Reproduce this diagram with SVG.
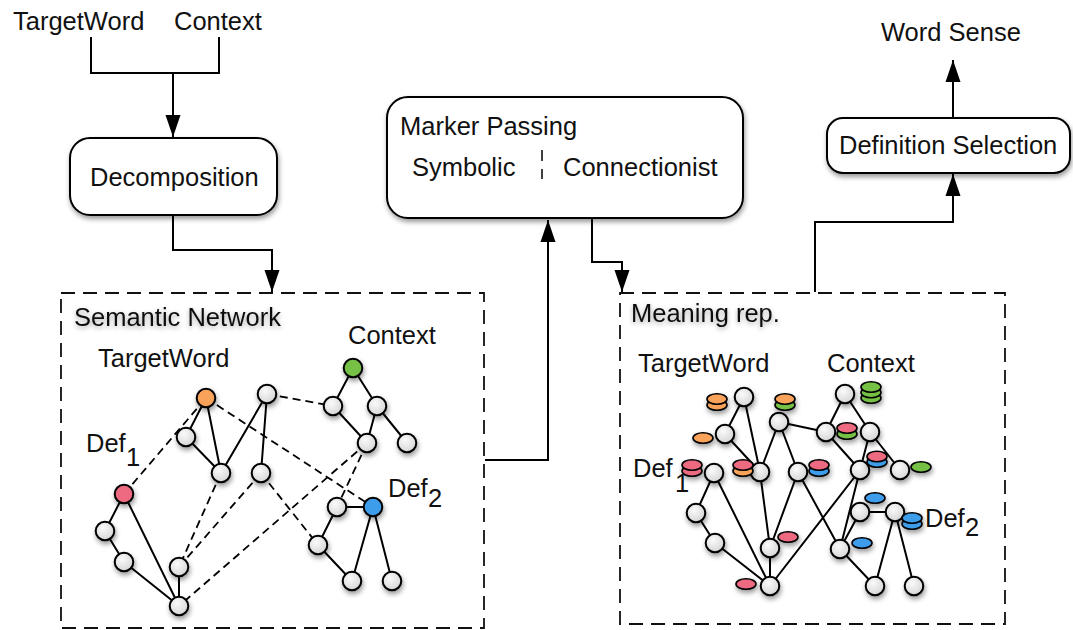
<svg xmlns="http://www.w3.org/2000/svg" width="1073" height="630" viewBox="0 0 1073 630">
<style>
text{font-family:"Liberation Sans",Arial,sans-serif;font-size:25.5px;fill:#111}
.box{fill:#fff;stroke:#000;stroke-width:2}
.frame{fill:none;stroke:#111;stroke-width:1.8;stroke-dasharray:14 8}
.conn{fill:none;stroke:#000;stroke-width:2}
.e{stroke:#000;stroke-width:2;fill:none}
.d{stroke:#000;stroke-width:1.8;fill:none;stroke-dasharray:8 5}
.n{fill:url(#g);stroke:#000;stroke-width:2}
.or{fill:#F8A25A}.gr{fill:#74C044}.pk{fill:#EE6A80}.bl{fill:#3E9DEB}
.m{stroke:#000;stroke-width:1.6}
</style>
<defs>
<radialGradient id="g" cx="0.4" cy="0.35" r="0.7">
<stop offset="0" stop-color="#fafafa"/><stop offset="1" stop-color="#d4d4d4"/>
</radialGradient>
<filter id="sh" x="-30%" y="-30%" width="160%" height="170%">
<feDropShadow dx="1" dy="3" stdDeviation="2.5" flood-color="#000" flood-opacity="0.4"/>
</filter>
<filter id="ts" x="-10%" y="-40%" width="120%" height="190%">
<feDropShadow dx="0" dy="2" stdDeviation="2.5" flood-color="#000" flood-opacity="0.35"/>
</filter>
<marker id="ah" markerUnits="userSpaceOnUse" markerWidth="23" markerHeight="16" refX="22" refY="8" orient="auto">
<path d="M0,0.5 L22,8 L0,15.5 z" fill="#000"/>
</marker>
</defs>
<rect width="1073" height="630" fill="#fff"/>

<g id="inputs">
<text x="13" y="30">TargetWord</text>
<text x="174" y="30">Context</text>
</g>
<g id="wordsense"><text x="881" y="41">Word Sense</text></g>

<g id="decomposition">
<rect class="box" x="70" y="138" width="207" height="77" rx="20" filter="url(#sh)"/>
<text x="90" y="186">Decomposition</text>
</g>
<g id="markerpassing">
<rect class="box" x="387" y="97" width="356" height="121" rx="21" filter="url(#sh)"/>
<text x="400" y="135">Marker Passing</text>
<text x="412" y="176">Symbolic</text>
<text x="563" y="176">Connectionist</text>
<line x1="542" y1="150" x2="542" y2="179" stroke="#000" stroke-width="1.5" stroke-dasharray="11 8"/>
</g>
<g id="defselection">
<rect class="box" x="827" y="118" width="243" height="55" rx="16" filter="url(#sh)"/>
<text x="839" y="154">Definition Selection</text>
</g>

<g id="connectors">
<polyline class="conn" points="91,37 91,73 219,73 219,37"/>
<line class="conn" x1="173" y1="73" x2="173" y2="137" marker-end="url(#ah)"/>
<polyline class="conn" points="173,215 173,250 272,250 272,292" marker-end="url(#ah)"/>
<polyline class="conn" points="485,460 548,460 548,220" marker-end="url(#ah)"/>
<polyline class="conn" points="592,218 592,262 622,262 622,292" marker-end="url(#ah)"/>
<polyline class="conn" points="815,292 815,222 953,222 953,174" marker-end="url(#ah)"/>
<line class="conn" x1="953" y1="118" x2="953" y2="60" marker-end="url(#ah)"/>
</g>

<g id="semantic-network">
<rect class="frame" x="61" y="293" width="423" height="335"/>
<text x="74" y="326" filter="url(#ts)">Semantic Network</text>
<text x="98" y="367">TargetWord</text>
<text x="348" y="344">Context</text>
<text x="86" y="452">Def</text><text x="126" y="466">1</text>
<text x="388" y="497">Def</text><text x="428" y="507">2</text>
<g id="sn-edges">
<path class="e" d="M206,398L186,437 M206,398L221,473 M267,394L221,473 M267,394L261,473 M186,437L221,473 M353,368L333,406 M353,368L377,406 M333,406L367,443 M377,406L367,443 M377,406L407,443 M124,494L105,531 M124,494L179,606 M105,531L124,562 M124,562L179,606 M179,567L179,606 M373,507L337,507 M337,507L318,545 M318,545L352,581 M373,507L352,581 M373,507L392,581"/>
<path class="d" d="M267,394L333,406 M206,398L373,507 M124,494L206,398 M221,473L179,567 M261,473L179,567 M261,473L318,545 M367,443L179,606 M367,443L337,507"/>
</g>
<g id="sn-nodes" filter="url(#sh)">
<circle id="sn-target" class="n or" cx="206" cy="398" r="9.3"/>
<circle id="sn-a" class="n" cx="267" cy="394" r="9.3"/>
<circle id="sn-context" class="n gr" cx="353" cy="368" r="9.3"/>
<circle id="sn-c1" class="n" cx="333" cy="406" r="9.3"/>
<circle id="sn-c2" class="n" cx="377" cy="406" r="9.3"/>
<circle id="sn-c3" class="n" cx="367" cy="443" r="9.3"/>
<circle id="sn-c4" class="n" cx="407" cy="443" r="9.3"/>
<circle id="sn-b" class="n" cx="186" cy="437" r="9.3"/>
<circle id="sn-d" class="n" cx="221" cy="473" r="9.3"/>
<circle id="sn-e" class="n" cx="261" cy="473" r="9.3"/>
<circle id="sn-def1" class="n pk" cx="124" cy="494" r="9.3"/>
<circle id="sn-f" class="n" cx="105" cy="531" r="9.3"/>
<circle id="sn-g" class="n" cx="124" cy="562" r="9.3"/>
<circle id="sn-h" class="n" cx="179" cy="567" r="9.3"/>
<circle id="sn-i" class="n" cx="179" cy="606" r="9.3"/>
<circle id="sn-def2" class="n bl" cx="373" cy="507" r="9.3"/>
<circle id="sn-j" class="n" cx="337" cy="507" r="9.3"/>
<circle id="sn-k" class="n" cx="318" cy="545" r="9.3"/>
<circle id="sn-l" class="n" cx="352" cy="581" r="9.3"/>
<circle id="sn-m" class="n" cx="392" cy="581" r="9.3"/>
</g>
</g>

<g id="meaning-rep">
<rect class="frame" x="620" y="293" width="385" height="331"/>
<text x="631" y="322" filter="url(#ts)">Meaning rep.</text>
<text x="638" y="372">TargetWord</text>
<text x="827" y="372">Context</text>
<text x="633" y="477">Def</text><text x="675" y="492">1</text>
<text x="925" y="527">Def</text><text x="965" y="536">2</text>
<g id="mr-edges">
<path class="e" d="M744,397L725,434 M744,397L760,472 M725,434L760,472 M779,422L760,472 M779,422L826,432 M779,422L798,472 M845,394L826,432 M845,394L870,432 M826,432L860,470 M870,432L860,470 M870,432L900,470 M760,472L770,548 M798,472L770,548 M798,472L840,549 M860,470L770,586 M860,470L840,549 M714,473L696,513 M714,473L770,586 M696,513L715,543 M715,543L770,586 M770,548L770,586 M860,512L895,512 M860,512L840,549 M895,512L875,586 M895,512L914,586 M840,549L875,586"/>
</g>
<g id="mr-nodes" filter="url(#sh)">
<circle id="mr-n1" class="n" cx="744" cy="397" r="9.3"/>
<circle id="mr-n2" class="n" cx="725" cy="434" r="9.3"/>
<circle id="mr-n3" class="n" cx="779" cy="422" r="9.3"/>
<circle id="mr-n4" class="n" cx="826" cy="432" r="9.3"/>
<circle id="mr-n5" class="n" cx="845" cy="394" r="9.3"/>
<circle id="mr-n6" class="n" cx="870" cy="432" r="9.3"/>
<circle id="mr-n7" class="n" cx="760" cy="472" r="9.3"/>
<circle id="mr-n8" class="n" cx="798" cy="472" r="9.3"/>
<circle id="mr-n9" class="n" cx="860" cy="470" r="9.3"/>
<circle id="mr-n10" class="n" cx="900" cy="470" r="9.3"/>
<circle id="mr-n11" class="n" cx="714" cy="473" r="9.3"/>
<circle id="mr-n12" class="n" cx="696" cy="513" r="9.3"/>
<circle id="mr-n13" class="n" cx="715" cy="543" r="9.3"/>
<circle id="mr-n14" class="n" cx="770" cy="548" r="9.3"/>
<circle id="mr-n15" class="n" cx="770" cy="586" r="9.3"/>
<circle id="mr-n16" class="n" cx="860" cy="512" r="9.3"/>
<circle id="mr-n17" class="n" cx="895" cy="512" r="9.3"/>
<circle id="mr-n18" class="n" cx="840" cy="549" r="9.3"/>
<circle id="mr-n19" class="n" cx="875" cy="586" r="9.3"/>
<circle id="mr-n20" class="n" cx="914" cy="586" r="9.3"/>
</g>
<g id="mr-markers" filter="url(#sh)">
<ellipse class="m or" cx="717" cy="405" rx="10" ry="5.2"/><ellipse class="m or" cx="717" cy="399" rx="10" ry="5.2"/>
<ellipse class="m or" cx="703" cy="438" rx="10" ry="5.2"/>
<ellipse class="m gr" cx="785" cy="405" rx="10" ry="5.2"/><ellipse class="m or" cx="785" cy="399" rx="10" ry="5.2"/>
<ellipse class="m gr" cx="871" cy="398" rx="10" ry="5.2"/><ellipse class="m gr" cx="871" cy="392.5" rx="10" ry="5.2"/><ellipse class="m gr" cx="871" cy="387" rx="10" ry="5.2"/>
<ellipse class="m gr" cx="847" cy="434" rx="10" ry="5.2"/><ellipse class="m pk" cx="847" cy="428" rx="10" ry="5.2"/>
<ellipse class="m pk" cx="692" cy="471" rx="10" ry="5.2"/><ellipse class="m pk" cx="692" cy="465" rx="10" ry="5.2"/>
<ellipse class="m or" cx="743" cy="471" rx="10" ry="5.2"/><ellipse class="m pk" cx="743" cy="465" rx="10" ry="5.2"/>
<ellipse class="m bl" cx="819" cy="471" rx="10" ry="5.2"/><ellipse class="m pk" cx="819" cy="465" rx="10" ry="5.2"/>
<ellipse class="m bl" cx="877" cy="462" rx="10" ry="5.2"/><ellipse class="m pk" cx="877" cy="456.5" rx="10" ry="5.2"/>
<ellipse class="m gr" cx="921" cy="467" rx="10" ry="5.2"/>
<ellipse class="m bl" cx="875" cy="498" rx="10" ry="5.2"/>
<ellipse class="m bl" cx="912" cy="524" rx="10" ry="5.2"/><ellipse class="m bl" cx="912" cy="518" rx="10" ry="5.2"/>
<ellipse class="m pk" cx="788" cy="537" rx="10" ry="5.2"/>
<ellipse class="m bl" cx="862" cy="543" rx="10" ry="5.2"/>
<ellipse class="m pk" cx="746" cy="584" rx="10" ry="5.2"/>
</g>
</g>
</svg>
